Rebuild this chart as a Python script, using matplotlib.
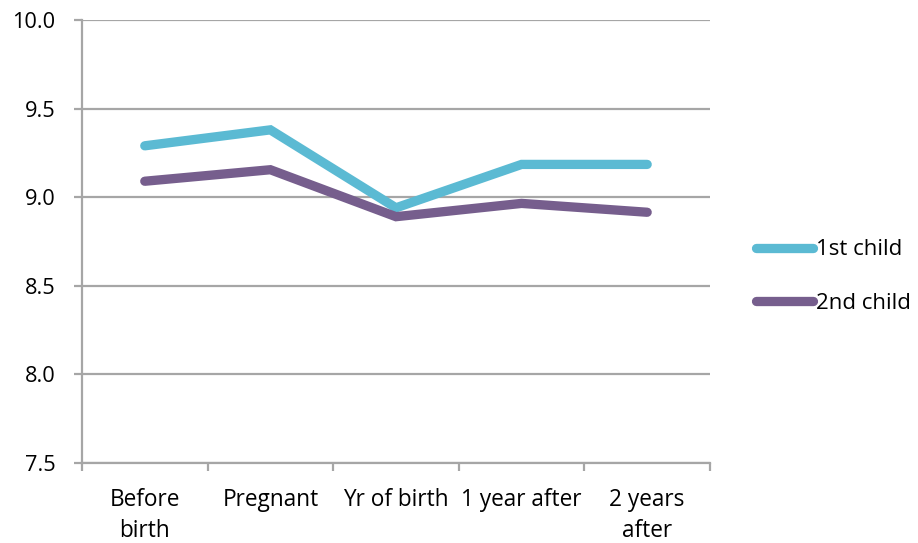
import matplotlib
matplotlib.use("Agg")
import matplotlib.pyplot as plt
import numpy as np

categories = ["Before\nbirth", "Pregnant", "Yr of birth", "1 year after", "2 years\nafter"]
first_child = [9.29, 9.38, 8.94, 9.185, 9.185]
second_child = [9.09, 9.155, 8.89, 8.965, 8.915]
series_names = ["1st child", "2nd child"]
yticks = [7.5, 8.0, 8.5, 9.0, 9.5, 10.0]

plt.rcParams['font.family'] = ['Open Sans', 'DejaVu Sans']

fig = plt.figure(figsize=(9.18, 5.43), dpi=100)
ax = fig.add_axes([0.0893, 0.1473, 0.6841, 0.8159])

grid_col = "#A6A6A6"
x = np.arange(len(categories))
ax.plot(x, first_child, color="#5BBAD3", lw=6.7, solid_capstyle="round",
        solid_joinstyle="miter", label=series_names[0], zorder=3)
ax.plot(x, second_child, color="#765E8D", lw=6.7, solid_capstyle="round",
        solid_joinstyle="miter", label=series_names[1], zorder=3)

ax.set_xlim(-0.5, len(categories) - 0.5)
ax.set_ylim(7.5, 10.0)
ax.set_yticks(yticks)
ax.set_yticklabels([f"{v:.1f}" for v in yticks])
ax.yaxis.grid(True, color=grid_col, lw=1.6)
ax.set_axisbelow(True)

ax.set_xticks(x)
ax.set_xticklabels(categories, linespacing=1.4)
ax.set_xticks(np.arange(-0.5, len(categories)), minor=True)
ax.tick_params(axis="x", which="major", length=0, pad=18, labelsize=16.3)
ax.tick_params(axis="x", which="minor", length=6, width=1.6, color=grid_col)
ax.tick_params(axis="y", length=6, width=1.6, color=grid_col, labelsize=15.7, pad=13)

for s in ["top", "right"]:
    ax.spines[s].set_visible(False)
for s in ["left", "bottom"]:
    ax.spines[s].set_color(grid_col)
    ax.spines[s].set_linewidth(1.6)

leg = ax.legend(loc="center left", bbox_to_anchor=(1.042, 0.421), frameon=False,
                fontsize=16, handlelength=2.55, handletextpad=0.15,
                labelspacing=1.45)

fig.savefig("out.png", dpi=100)
